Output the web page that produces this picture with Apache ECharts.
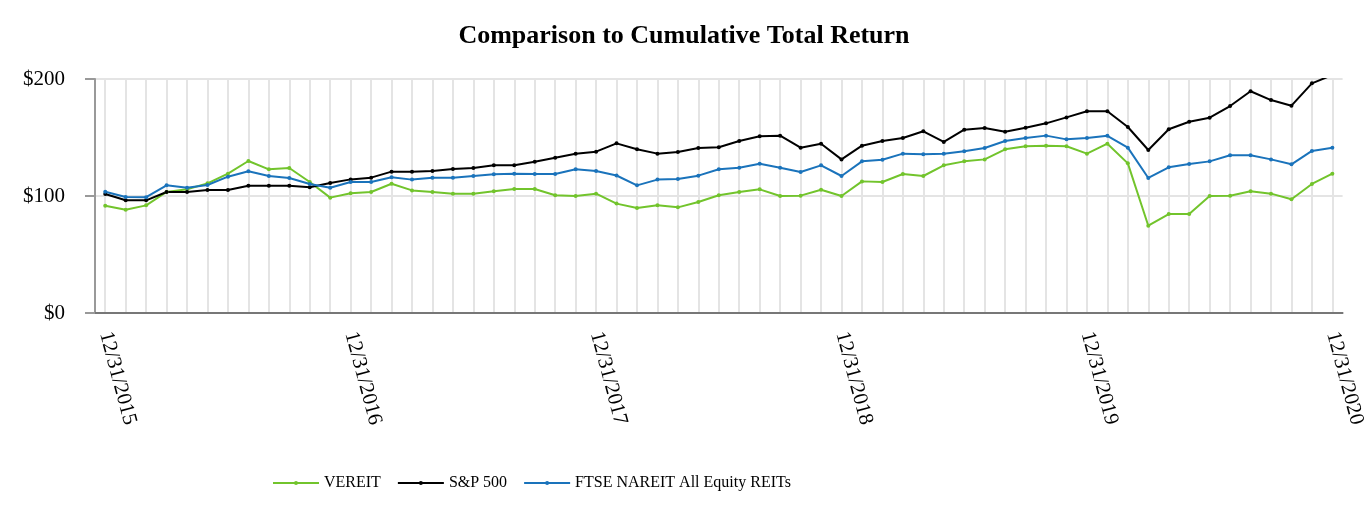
<!DOCTYPE html>
<html>
<head>
<meta charset="utf-8">
<script src="https://cdn.jsdelivr.net/npm/echarts@6/dist/echarts.min.js"></script>
<style>html,body{margin:0;padding:0;background:#fff;}#c{width:1368px;height:520px;}</style>
</head>
<body>
<div id="c"></div>
<script>
// Month-end categories, 12/31/2015 .. 12/31/2020
var categories = ['12/31/2015'];
(function(){
  for (var y = 2016; y <= 2020; y++) {
    for (var m = 1; m <= 12; m++) {
      var d = [31,28,31,30,31,30,31,31,30,31,30,31][m-1];
      if (m === 2 && (y % 4 === 0)) d = 29;
      categories.push(m + '/' + d + '/' + y);
    }
  }
})();

var tickLabels = ['12/31/2015','12/31/2016','12/31/2017','12/31/2018','12/31/2019','12/31/2020'];

var vereit = [91.7,88.3,92,103.4,105.7,110.8,119.1,129.9,122.8,123.9,112,98.6,
  102.3,103.4,110.5,104.8,103.4,102,102,104,106,106,100.6,100,
  102,93.5,89.7,92,90.3,94.9,100.6,103.4,105.7,100,100.3,105.4,
  100,112.5,112,118.8,117.1,126.2,129.6,131.3,139.9,142.5,143,142.5,
  136.2,144.7,127.9,74.6,84.6,84.6,100,100.3,104,102,97.2,110.3,
  119.1];
var sp500 = [101.7,96.3,96.3,103.4,103.4,105.1,105.1,108.8,108.8,108.8,107.4,111.1,
  114.2,115.7,120.8,120.8,121.4,123.1,123.9,126.2,126.2,129.3,132.7,136.2,
  137.9,145,139.9,136.2,137.6,141,141.6,147,151,151.6,141.3,144.7,
  131.3,143,147,149.6,155.3,146.2,156.7,158.1,155,158.4,162.1,167.2,
  172.4,172.4,159,139.3,157,163.5,166.9,176.9,189.5,182,177.2,196.3,
  203.4];
var ftse = [103.7,99.1,99,109.1,107.1,109.4,116.5,121.1,117.1,115.4,110.3,107.1,
  112,112,116,114,115.7,115.7,117.1,118.5,119.1,118.8,118.8,122.8,
  121.4,117.5,109.1,114,114.5,117.4,122.8,124.2,127.6,124.2,120.5,126.2,
  117.1,129.6,131,136.2,135.6,136.2,138.2,141,147,149.6,151.6,148.4,
  149.6,151.4,141.3,115.4,124.5,127.4,129.6,134.8,134.8,131.3,127.1,138.5,
  141.3];

var seriesNames = ['VEREIT', 'S&P 500', 'FTSE NAREIT All Equity REITs'];
var seriesColors = ['#72c42c', '#000000', '#1a73bb'];
var seriesData = [vereit, sp500, ftse];

var FONT = '"Liberation Serif", "Times New Roman", serif';
var chart = echarts.init(document.getElementById('c'));
chart.setOption({
  animation: false,
  backgroundColor: '#fff',
  title: {
    text: 'Comparison to Cumulative Total Return',
    left: 'center',
    top: 18,
    textStyle: { fontFamily: FONT, fontSize: 26, fontWeight: 'bold', color: '#000' }
  },
  legend: {
    bottom: 24,
    left: 267,
    itemWidth: 46,
    itemHeight: 5,
    itemGap: 16,
    textStyle: { fontFamily: FONT, fontSize: 16, color: '#000' },
    data: seriesNames
  },
  grid: { left: 95, right: 20, top: 79, bottom: 207, containLabel: false },
  xAxis: {
    type: 'category',
    data: categories,
    boundaryGap: true,
    axisLine: { show: true, lineStyle: { color: '#777', width: 2 } },
    axisTick: { show: false },
    splitLine: { show: true, interval: 0, alignWithLabel: true, lineStyle: { color: '#e4e4e4', width: 2 } },
    axisLabel: {
      interval: function (i, v) { return tickLabels.indexOf(v) >= 0; },
      rotate: -75,
      margin: 19,
      fontFamily: FONT,
      fontSize: 21,
      color: '#000'
    }
  },
  yAxis: {
    type: 'value',
    min: 0,
    max: 200,
    interval: 100,
    axisLine: { show: true, lineStyle: { color: '#999', width: 2 } },
    axisTick: { show: true, length: 10, lineStyle: { color: '#999', width: 2 } },
    splitLine: { show: true, lineStyle: { color: '#e4e4e4', width: 2 } },
    axisLabel: {
      formatter: function (v) { return '$' + v; },
      margin: 30,
      fontFamily: FONT,
      fontSize: 21,
      color: '#000'
    }
  },
  series: seriesData.map(function (d, i) {
    return {
      name: seriesNames[i],
      type: 'line',
      data: d,
      clip: true,
      symbol: 'circle',
      symbolSize: 4,
      showSymbol: true,
      itemStyle: { color: seriesColors[i] },
      lineStyle: { color: seriesColors[i], width: 2 }
    };
  })
});
</script>
</body>
</html>
